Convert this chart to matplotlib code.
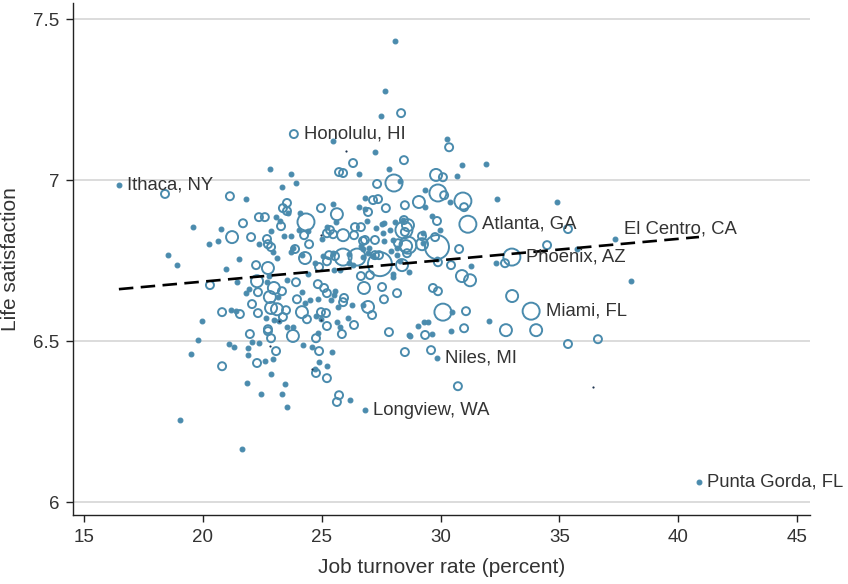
import numpy as np
import matplotlib
matplotlib.use("Agg")
import matplotlib.pyplot as plt

plt.rcParams['font.family'] = ['Liberation Sans', 'DejaVu Sans']

# turnover rate (percent), life satisfaction, marker size class (1 = smallest .. 5 = largest)
turnover = [
    28.08, 27.66, 27.49, 28.34, 23.83, 25.48, 27.24, 28.46, 26.32, 25.73, 25.90, 26.57,
    27.83, 28.04, 28.29, 27.33, 30.27, 30.36, 30.90, 31.91, 29.81, 30.10, 30.69, 29.89,
    30.15, 29.35, 29.09, 29.35, 30.40, 30.94, 30.99, 32.37, 34.90, 28.50, 31.15, 29.64,
    29.85, 29.98, 28.46, 28.63, 28.50, 29.22, 29.77, 29.85, 29.22, 28.55, 30.78, 29.89,
    30.44, 31.28, 32.33, 32.71, 33.00, 34.48, 35.36, 35.74, 37.34, 30.90, 31.24, 28.67,
    29.68, 29.89, 33.01, 38.01, 30.10, 30.48, 31.07, 33.81, 29.05, 29.30, 29.47, 29.35,
    29.64, 30.44, 30.99, 32.04, 32.75, 34.02, 35.36, 36.62, 28.67, 28.50, 29.60, 29.85,
    30.73, 40.87, 26.82, 25.73, 25.64, 26.19, 25.85, 27.83, 28.71, 25.43,
    16.47, 18.41, 21.14, 21.82, 22.82, 23.71, 23.92, 23.33, 19.59, 20.76, 20.26, 20.64,
    21.23, 21.69, 22.03, 22.36, 22.61, 23.08, 23.25, 23.29, 22.87, 22.36, 22.70, 22.74,
    22.87, 23.37, 23.54, 23.54, 23.58, 24.09, 24.34, 24.05, 24.26, 24.42, 24.47, 23.79,
    23.71, 23.88, 23.12, 24.30, 24.17, 24.97, 25.22, 25.48, 25.64, 25.60, 25.22, 25.35,
    25.48, 25.90, 26.36, 26.40, 26.65, 26.82, 25.90, 25.48, 26.49, 26.95, 27.16, 27.45,
    27.24, 28.00, 28.17, 28.63, 27.58, 27.87, 27.62, 28.08, 28.42, 28.46, 29.26, 26.57,
    26.95, 26.82, 27.16, 26.82, 27.37, 27.70, 27.54, 26.90, 27.28, 26.74, 27.62, 28.21,
    29.26, 25.56, 26.15, 26.65, 26.74, 26.74, 26.99, 27.24, 27.41, 27.91, 28.17, 28.29,
    28.38, 28.59, 29.85, 25.52, 25.77, 26.15, 26.32, 26.65, 27.03, 28.00, 28.00, 26.78,
    27.54, 28.17, 27.62, 25.56, 25.52, 25.94, 25.90, 25.39, 26.95, 26.74, 27.12, 26.27,
    25.69, 26.11, 26.36, 25.64, 25.77,
    23.41, 23.71, 25.01, 22.95, 21.52, 22.24, 22.74, 20.97, 20.30, 21.44, 22.28, 22.78,
    22.70, 22.99, 23.33, 23.16, 22.82, 22.32, 21.94, 21.82, 23.54, 23.92, 24.42, 24.84,
    25.10, 25.22, 24.89, 24.72, 25.05, 25.22, 25.31, 24.17, 23.96, 24.51, 24.84, 24.30,
    22.07, 22.87, 23.12, 23.50, 24.17, 22.32, 20.81, 21.18, 21.39, 21.56, 22.66, 22.99,
    23.20, 23.37, 24.38, 24.76, 24.97, 25.18, 19.96, 24.97, 23.54, 23.79, 22.74, 25.22,
    19.80, 19.50, 20.81, 21.10, 21.31, 21.98, 22.74, 22.07, 22.36, 21.90, 21.90, 22.28,
    22.61, 22.95, 22.87, 23.08, 23.79, 24.21, 24.59, 24.89, 24.76, 24.84, 24.89, 24.72,
    24.76, 25.22, 25.22, 22.87, 21.86, 22.45, 23.46, 23.33, 23.54, 19.04, 21.65, 18.53,
    18.91,
]
satisfaction = [
    7.432, 7.276, 7.199, 7.208, 7.143, 7.121, 7.087, 7.062, 7.053, 7.025, 7.022, 7.019,
    7.034, 6.991, 6.997, 6.988, 7.127, 7.102, 7.047, 7.050, 7.016, 7.009, 7.012, 6.960,
    6.953, 6.969, 6.932, 6.916, 6.932, 6.935, 6.916, 6.941, 6.932, 6.922, 6.863, 6.888,
    6.873, 6.845, 6.876, 6.860, 6.839, 6.826, 6.823, 6.792, 6.801, 6.795, 6.786, 6.745,
    6.736, 6.733, 6.742, 6.742, 6.761, 6.798, 6.848, 6.786, 6.817, 6.702, 6.689, 6.714,
    6.665, 6.655, 6.640, 6.686, 6.590, 6.590, 6.593, 6.593, 6.547, 6.559, 6.559, 6.519,
    6.522, 6.531, 6.540, 6.562, 6.534, 6.534, 6.491, 6.506, 6.519, 6.466, 6.472, 6.447,
    6.360, 6.062, 6.286, 6.332, 6.311, 6.317, 6.522, 6.528, 6.516, 6.466,
    6.984, 6.957, 6.950, 6.941, 7.034, 7.019, 6.991, 6.978, 6.854, 6.848, 6.801, 6.811,
    6.823, 6.866, 6.823, 6.885, 6.885, 6.885, 6.873, 6.857, 6.842, 6.801, 6.817, 6.801,
    6.792, 6.913, 6.929, 6.904, 6.898, 6.898, 6.870, 6.845, 6.829, 6.842, 6.801, 6.789,
    6.776, 6.786, 6.758, 6.758, 6.767, 6.913, 6.854, 6.925, 6.894, 6.870, 6.835, 6.845,
    6.832, 6.829, 6.829, 6.854, 6.854, 6.814, 6.761, 6.773, 6.761, 6.773, 6.764, 6.739,
    6.814, 6.814, 6.789, 6.798, 6.835, 6.845, 6.866, 6.870, 6.876, 6.845, 6.804, 6.916,
    6.901, 6.910, 6.938, 6.944, 6.941, 6.913, 6.863, 6.873, 6.851, 6.811, 6.811, 6.804,
    6.835, 6.764, 6.770, 6.795, 6.786, 6.761, 6.789, 6.767, 6.767, 6.779, 6.767, 6.748,
    6.736, 6.773, 6.755, 6.720, 6.720, 6.742, 6.736, 6.702, 6.705, 6.708, 6.699, 6.665,
    6.668, 6.649, 6.630, 6.655, 6.643, 6.634, 6.621, 6.627, 6.606, 6.612, 6.581, 6.612,
    6.606, 6.571, 6.550, 6.559, 6.543,
    6.826, 6.826, 6.817, 6.776, 6.755, 6.736, 6.727, 6.724, 6.674, 6.683, 6.686, 6.702,
    6.683, 6.665, 6.655, 6.637, 6.637, 6.652, 6.661, 6.649, 6.689, 6.683, 6.708, 6.677,
    6.665, 6.649, 6.730, 6.742, 6.764, 6.748, 6.767, 6.652, 6.630, 6.627, 6.630, 6.618,
    6.615, 6.603, 6.599, 6.596, 6.590, 6.587, 6.590, 6.596, 6.593, 6.584, 6.571, 6.565,
    6.562, 6.575, 6.568, 6.578, 6.590, 6.587, 6.562, 6.568, 6.543, 6.543, 6.537, 6.547,
    6.503, 6.460, 6.422, 6.491, 6.481, 6.522, 6.531, 6.497, 6.494, 6.478, 6.457, 6.432,
    6.438, 6.444, 6.509, 6.469, 6.516, 6.488, 6.481, 6.469, 6.509, 6.525, 6.435, 6.413,
    6.401, 6.385, 6.422, 6.398, 6.370, 6.335, 6.366, 6.335, 6.295, 6.255, 6.165, 6.767,
    6.736,
]
size_class = [
    1, 1, 1, 2, 2, 1, 1, 2, 2, 2, 2, 1,
    1, 4, 1, 2, 1, 2, 1, 1, 3, 2, 1, 4,
    2, 1, 3, 1, 1, 4, 2, 1, 1, 2, 4, 1,
    2, 1, 2, 3, 2, 2, 2, 5, 3, 3, 2, 2,
    2, 1, 1, 2, 4, 2, 2, 1, 1, 3, 3, 1,
    2, 2, 3, 1, 4, 1, 2, 4, 1, 1, 1, 2,
    1, 1, 2, 1, 3, 3, 2, 2, 1, 2, 2, 1,
    2, 1, 1, 2, 2, 1, 2, 2, 1, 1,
    1, 2, 2, 1, 1, 1, 1, 1, 1, 1, 1, 1,
    3, 2, 2, 2, 2, 1, 1, 2, 1, 1, 2, 2,
    2, 2, 2, 2, 1, 1, 4, 1, 2, 1, 2, 1,
    1, 2, 1, 3, 1, 2, 1, 1, 3, 1, 2, 2,
    2, 3, 2, 2, 2, 2, 4, 1, 4, 1, 1, 5,
    2, 1, 1, 4, 1, 1, 1, 1, 1, 4, 1, 1,
    2, 1, 2, 1, 2, 2, 1, 1, 1, 2, 1, 2,
    1, 2, 1, 1, 1, 1, 1, 2, 2, 1, 1, 1,
    3, 2, 1, 1, 1, 1, 1, 2, 2, 1, 1, 3,
    2, 2, 2, 1, 1, 2, 2, 1, 3, 1, 2, 1,
    1, 1, 2, 1, 1,
    1, 1, 1, 1, 1, 2, 3, 1, 2, 1, 3, 1,
    1, 3, 2, 1, 3, 2, 1, 1, 1, 2, 1, 2,
    2, 2, 2, 1, 1, 2, 2, 1, 2, 1, 1, 1,
    2, 3, 3, 2, 3, 2, 2, 1, 1, 2, 1, 1,
    1, 2, 2, 1, 2, 2, 1, 1, 1, 1, 2, 2,
    1, 1, 2, 1, 1, 2, 2, 1, 1, 1, 1, 2,
    1, 1, 2, 2, 3, 1, 1, 2, 2, 1, 1, 1,
    2, 2, 1, 1, 1, 1, 1, 1, 1, 1, 1, 1,
    1,
]

# very small dark marks
tiny_x = [26.02, 36.41, 24.97, 22.82, 24.59, 23.20, 24.97]
tiny_y = [7.090, 6.357, 6.829, 6.484, 6.413, 6.562, 6.565]

# labelled places
place_names = ["Ithaca, NY", "Honolulu, HI", "Atlanta, GA", "El Centro, CA", "Phoenix, AZ",
               "Miami, FL", "Niles, MI", "Longview, WA", "Punta Gorda, FL"]
place_x = [16.47, 23.83, 31.15, 37.34, 33.00, 33.81, 29.85, 26.82, 40.87]
place_y = [6.984, 7.143, 6.863, 6.817, 6.761, 6.593, 6.447, 6.286, 6.062]
place_radius = [2.5, 4, 8.5, 2.5, 8.5, 8.5, 2.5, 2.5, 2.5]

# fitted line
fit_intercept = 6.552
fit_slope = 0.00664

col = '#4a8bad'
txtcol = '#333333'

fig = plt.figure(figsize=(8.48, 5.84), dpi=100)
ax = fig.add_axes([73/848, 69/584, 737/848, 512/584])

tx = np.array(turnover)
sy = np.array(satisfaction)
sc = np.array(size_class)

# ring radius in pixels for each class -> marker size in points^2
radius_px = {1: 2.4, 2: 4.0, 3: 6.0, 4: 8.5, 5: 12.0}
for k in [5, 4, 3, 2]:
    m = sc == k
    d_pt = 2 * radius_px[k] * 72 / 100
    ax.scatter(tx[m], sy[m], s=d_pt**2, facecolors='none', edgecolors=col,
               linewidths=1.4, zorder=3)
m = sc == 1
ax.scatter(tx[m], sy[m], s=(2 * radius_px[1] * 0.72)**2, facecolors=col,
           edgecolors=col, linewidths=0.8, zorder=3)
ax.scatter(tiny_x, tiny_y, s=2.5, color='#1f3550', zorder=3, linewidths=0)

xs = np.array([tx.min(), tx.max()])
ax.plot(xs, fit_intercept + fit_slope * xs, color='black', lw=1.9,
        dashes=(5.5, 2.8), zorder=4)

for name, x, y, r in zip(place_names, place_x, place_y, place_radius):
    dx = (r + 6) * 0.72
    dy = 7 if name.startswith("El Centro") else 0
    ax.annotate(name, (x, y), xytext=(dx, dy), textcoords='offset points',
                ha='left', va='center', fontsize=13.3, color=txtcol, zorder=5)

ax.set_xlim(14.54, 45.54)
ax.set_ylim(5.96, 7.55)
ax.set_xticks([15, 20, 25, 30, 35, 40, 45])
ax.set_yticks([6, 6.5, 7, 7.5])
ax.set_yticklabels(["6", "6.5", "7", "7.5"])
ax.grid(axis='y', color='#d6d6d6', lw=1.2)
ax.set_axisbelow(True)
for s in ['top', 'right']:
    ax.spines[s].set_visible(False)
for s in ['left', 'bottom']:
    ax.spines[s].set_color('#222222')
    ax.spines[s].set_linewidth(1.0)
ax.tick_params(direction='out', length=5, width=1, colors='#222222',
               labelsize=13.5, labelcolor=txtcol, pad=5)
ax.set_xlabel("Job turnover rate (percent)", fontsize=15, color=txtcol, labelpad=9)
ax.set_ylabel("Life satisfaction", fontsize=15, color=txtcol, labelpad=9)

fig.savefig("out.png", dpi=100)
